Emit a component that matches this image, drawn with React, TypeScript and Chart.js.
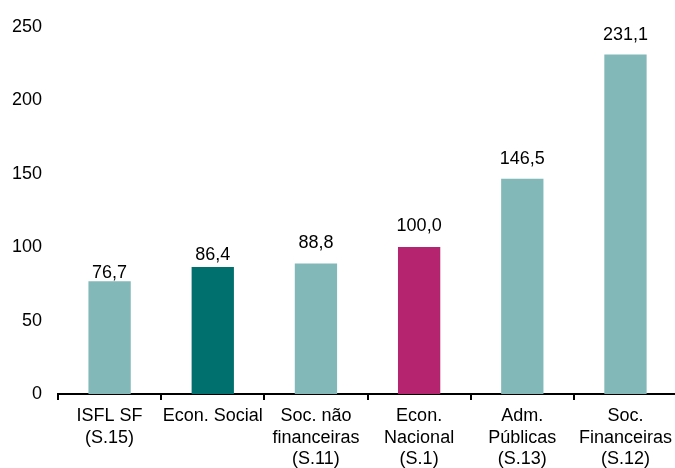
import React, { useEffect, useRef } from "react";
import { Chart, registerables } from "chart.js";

Chart.register(...registerables);

const categories: string[][] = [
  ["ISFL SF", "(S.15)"],
  ["Econ. Social"],
  ["Soc. não", "financeiras", "(S.11)"],
  ["Econ.", "Nacional", "(S.1)"],
  ["Adm.", "Públicas", "(S.13)"],
  ["Soc.", "Financeiras", "(S.12)"],
];
const values: number[] = [76.7, 86.4, 88.8, 100.0, 146.5, 231.1];
const barColors: string[] = ["#82B8B8", "#00706E", "#82B8B8", "#B5256F", "#82B8B8", "#82B8B8"];
const yTicks: number[] = [0, 50, 100, 150, 200, 250];

const FONT = "'Liberation Sans', Arial, sans-serif";
// gap (px) between bar top and the label's baseline, as placed in the original
const labelGaps = [3.5, 7.5, 16, 16, 15, 15];

const valueLabels = {
  id: "valueLabels",
  afterDatasetsDraw(chart: any) {
    const ctx = chart.ctx;
    const meta = chart.getDatasetMeta(0);
    ctx.save();
    ctx.font = `18px ${FONT}`;
    ctx.fillStyle = "#000";
    ctx.textAlign = "center";
    ctx.textBaseline = "alphabetic";
    meta.data.forEach((bar: any, i: number) => {
      const txt = values[i].toFixed(1).replace(".", ",");
      ctx.fillText(txt, bar.x, bar.y - labelGaps[i]);
    });
    ctx.restore();
  },
};

export default function App() {
  const ref = useRef<HTMLCanvasElement>(null);
  useEffect(() => {
    if (!ref.current) return;
    const chart = new Chart(ref.current, {
      type: "bar",
      data: {
        labels: categories,
        datasets: [
          {
            data: values,
            backgroundColor: barColors,
            barPercentage: 0.41,
            categoryPercentage: 1,
          },
        ],
      },
      options: {
        animation: false,
        responsive: false,
        maintainAspectRatio: false,
        layout: { padding: { top: 25, right: 0, left: 0, bottom: 0 } },
        plugins: { legend: { display: false }, tooltip: { enabled: false } },
        scales: {
          x: {
            offset: true,
            grid: {
              offset: true,
              drawOnChartArea: false,
              drawTicks: true,
              tickLength: 6,
              color: "#000",
              lineWidth: 2,
            },
            border: { display: true, color: "#000", width: 2 },
            ticks: {
              color: "#000",
              font: { family: FONT, size: 18, lineHeight: 1.17 },
              padding: 6,
              maxRotation: 0,
              autoSkip: false,
            },
            afterFit: (s: any) => {
              s.height = 74;
            },
          },
          y: {
            min: 0,
            max: 250,
            afterBuildTicks: (s: any) => {
              s.ticks = yTicks.map((v) => ({ value: v }));
            },
            grid: { display: false, drawTicks: false },
            border: { display: false },
            ticks: {
              color: "#000",
              font: { family: FONT, size: 18 },
              padding: 16,
            },
            afterFit: (s: any) => {
              s.width = 58;
            },
          },
        },
      },
      plugins: [valueLabels],
    });
    return () => chart.destroy();
  }, []);
  return (
    <div
      style={{
        position: "absolute",
        left: 0,
        top: 0,
        width: 675,
        height: 468,
        overflow: "hidden",
        background: "#fff",
      }}
    >
      <canvas ref={ref} width={678} height={468} style={{ width: 678, height: 468, display: "block" }} />
    </div>
  );
}
